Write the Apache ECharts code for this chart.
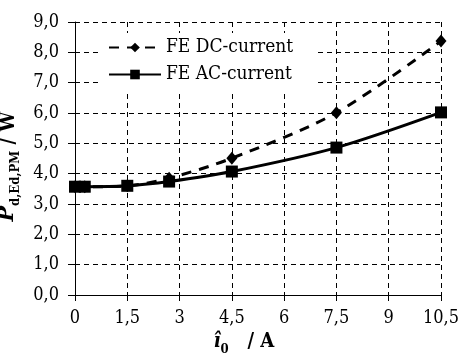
<!DOCTYPE html>
<html><head><meta charset="utf-8">
<script src="https://cdn.jsdelivr.net/npm/echarts@6/dist/echarts.min.js"></script>
<style>html,body{margin:0;padding:0;background:#fff}#c{width:472px;height:354px}</style>
</head><body><div id="c"></div>
<script>
var xValues = [0, 0.28, 1.5, 2.7, 4.5, 7.5, 10.5];
var dcValues = [3.57, 3.57, 3.6, 3.85, 4.51, 6.01, 8.37];
var acValues = [3.57, 3.57, 3.6, 3.74, 4.07, 4.86, 6.02];
var seriesNames = ['FE DC-current', 'FE AC-current'];
var xTicks = [0, 1.5, 3, 4.5, 6, 7.5, 9, 10.5];
var yTicks = [0, 1, 2, 3, 4, 5, 6, 7, 8, 9];

function pairs(xs, ys) { return xs.map(function (x, i) { return [x, ys[i]]; }); }
var FONT = 'DejaVu Serif Condensed, DejaVu Serif';
var chart = echarts.init(document.getElementById('c'));
chart.setOption({
  animation: false,
  backgroundColor: '#fff',
  textStyle: { fontFamily: FONT, color: '#000' },
  grid: { left: 75, right: 31, top: 22, bottom: 59, containLabel: false, outerBoundsMode: 'none' },
  legend: {
    orient: 'vertical', left: 99, top: 33, itemWidth: 52, itemHeight: 12, itemGap: 8,
    padding: [5, 22, 6, 9], backgroundColor: '#fff', z: 10,
    textStyle: { fontFamily: FONT, fontSize: 19, color: '#000' },
    data: seriesNames
  },
  xAxis: {
    type: 'value', min: xTicks[0], max: xTicks[xTicks.length - 1], interval: 1.5,
    axisLine: { lineStyle: { color: '#000', width: 1 } },
    axisTick: { show: true, length: 6, lineStyle: { color: '#000' } },
    splitLine: { lineStyle: { color: '#000', type: [5, 4], width: 1 } },
    axisLabel: { fontFamily: FONT, fontSize: 18, color: '#000', margin: 14,
      formatter: function (v) { return String(v).replace('.', ','); } },
    name: '{i|î}{s|0}{t|   / A}', nameLocation: 'middle', nameGap: 30,
    nameTextStyle: { fontFamily: FONT, padding: [0, 28, 0, 0], rich: {
      i: { fontFamily: FONT, fontSize: 20, fontWeight: 'bold', fontStyle: 'italic', color: '#000', verticalAlign: 'bottom', lineHeight: 22 },
      s: { fontFamily: FONT, fontSize: 13, fontWeight: 'bold', color: '#000', verticalAlign: 'bottom', lineHeight: 14, padding: [0, 0, -4, 0] },
      t: { fontFamily: FONT, fontSize: 20, fontWeight: 'bold', color: '#000', verticalAlign: 'bottom', lineHeight: 22 }
    } }
  },
  yAxis: {
    type: 'value', min: yTicks[0], max: yTicks[yTicks.length - 1], interval: 1,
    axisLine: { show: true, lineStyle: { color: '#000', width: 1 } },
    axisTick: { show: true, length: 7, lineStyle: { color: '#000' } },
    splitLine: { lineStyle: { color: '#000', type: [5, 4], width: 1 } },
    axisLabel: { fontFamily: FONT, fontSize: 18, color: '#000', margin: 16,
      formatter: function (v) { return v.toFixed(1).replace('.', ','); } },
    name: '{p|P}{s|d,Ed,PM}{t| / W}', nameLocation: 'middle', nameGap: 40, nameRotate: 90,
    nameTextStyle: { fontFamily: FONT, padding: [0, 16, 0, 0], rich: {
      p: { fontFamily: FONT, fontSize: 23, fontWeight: 'bold', fontStyle: 'italic', color: '#000', verticalAlign: 'bottom', lineHeight: 24 },
      s: { fontFamily: FONT, fontSize: 13, fontWeight: 'bold', color: '#000', verticalAlign: 'bottom', lineHeight: 14, padding: [0, 0, -4, 0] },
      t: { fontFamily: FONT, fontSize: 20, fontWeight: 'bold', color: '#000', verticalAlign: 'bottom', lineHeight: 22 }
    } }
  },
  series: [
    { name: seriesNames[0], type: 'line', smooth: 0.3, data: pairs(xValues, dcValues),
      symbol: 'diamond', symbolSize: [11, 13],
      lineStyle: { color: '#000', width: 3, type: [10, 8] },
      itemStyle: { color: '#000' }, z: 3 },
    { name: seriesNames[1], type: 'line', smooth: 0.3, data: pairs(xValues, acValues),
      symbol: 'rect', symbolSize: 12,
      lineStyle: { color: '#000', width: 3 },
      itemStyle: { color: '#000' }, z: 4 }
  ]
});
</script></body></html>
